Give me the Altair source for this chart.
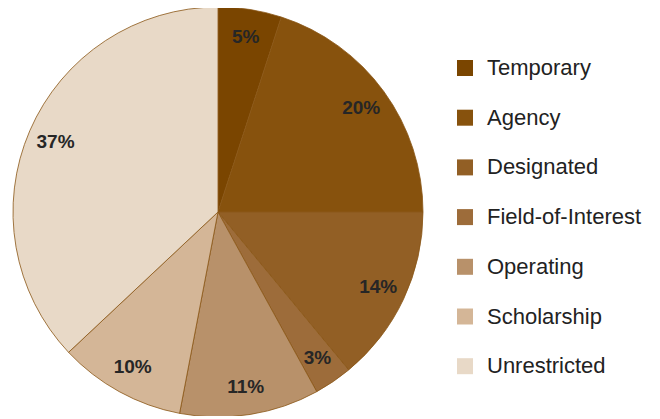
import altair as alt
import pandas as pd

categories = ["Temporary", "Agency", "Designated", "Field-of-Interest", "Operating", "Scholarship", "Unrestricted"]
values = [5, 20, 14, 3, 11, 10, 37]
colors = ["#7a4500", "#87520d", "#925f25", "#9d6c3a", "#b8916a", "#d4b697", "#e8d9c7"]

df = pd.DataFrame({
    "category": categories,
    "value": values,
    "order": list(range(len(categories))),
    "label": [f"{v}%" for v in values],
})

color_scale = alt.Scale(domain=categories, range=colors)

CX, CY = 210, 204

base = alt.Chart(df).encode(
    theta=alt.Theta("value:Q", stack=True),
    order=alt.Order("order:Q"),
    x=alt.value(CX),
    y=alt.value(CY),
)

arcs = base.mark_arc(outerRadius=205, stroke="#8a5716", strokeWidth=0.8).encode(
    color=alt.Color(
        "category:N",
        scale=color_scale,
        sort=categories,
        legend=alt.Legend(
            title=None,
            orient="none",
            legendX=446,
            legendY=49,
            symbolType="square",
            symbolSize=256,
            symbolStrokeWidth=0,
            labelFontSize=22,
            labelFont="Liberation Sans",
            labelColor="#222222",
            labelOffset=11,
            rowPadding=27.7,
            padding=0,
        ),
    )
)

labels = base.mark_text(
    radius=177,
    font="Liberation Sans",
    fontSize=19,
    fontWeight="bold",
    color="#262626",
).encode(text="label:N")

chart = (
    alt.layer(arcs, labels)
    .properties(width=644, height=408, padding=0, autosize=alt.AutoSizeParams(type="none"))
    .configure_view(stroke=None)
)

chart.save("out.html", embed_options={"renderer": "svg", "actions": False})
